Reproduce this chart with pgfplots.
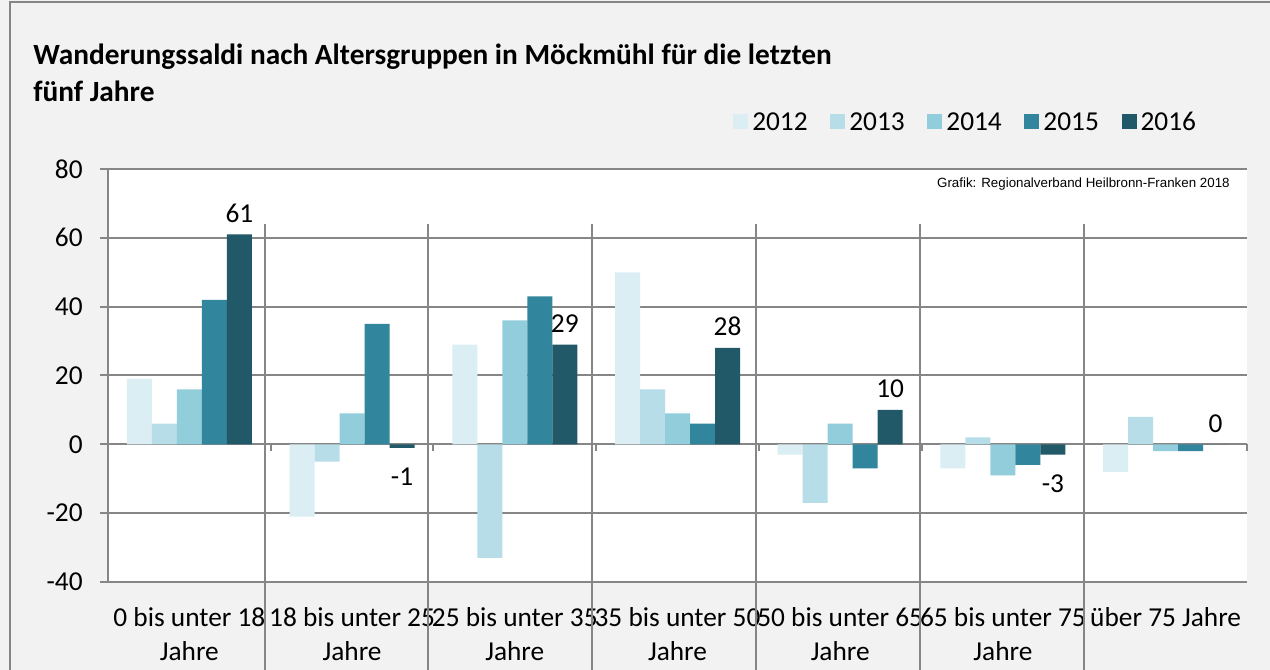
\documentclass[border=0pt]{standalone}
\usepackage{pgfplots}
\pgfplotsset{compat=1.18}
\usepackage{fontspec}
\setmainfont{Carlito}
\newfontfamily\arialfont{Liberation Sans}
\definecolor{bg}{HTML}{F2F2F2}
\definecolor{gridc}{HTML}{868686}
\definecolor{cA}{HTML}{DAEEF3}
\definecolor{cB}{HTML}{B7DEE8}
\definecolor{cC}{HTML}{92CDDC}
\definecolor{cD}{HTML}{31859C}
\definecolor{cE}{HTML}{215968}
\pgfplotsset{sqlegend/.style={legend image code/.code={\fill[##1] (0pt,0.9pt) rectangle (11.25pt,12.1pt);}}}
\begin{document}
\begin{tikzpicture}
\fill[bg] (0,0) rectangle (952.5pt,502.5pt);
\path[use as bounding box] (0,0) rectangle (952.5pt,502.5pt);
\draw[gridc, line width=1.5pt] (7.5pt,0) -- (7.5pt,501pt) -- (952.5pt,501pt);
\node[anchor=base west, inner sep=0pt, font=\bfseries\fontsize{22}{27.75}\selectfont] at (24.75pt,453.75pt) {Wanderungssaldi nach Altersgruppen in Möckmühl für die letzten};
\node[anchor=base west, inner sep=0pt, font=\bfseries\fontsize{22}{27.75}\selectfont] at (24.75pt,426pt) {fünf Jahre};
\begin{axis}[
  at={(81pt,66pt)}, anchor=south west,
  scale only axis, width=854.25pt, height=309.75pt,
  xmin=-0.5, xmax=6.5, ymin=-40, ymax=80,
  ytick={-40,-20,0,20,40,60,80},
  yticklabels={-40,-20,0,20,40,60,80},
  xtick={0,1,2,3,4,5,6},
  xticklabels={{0 bis unter 18\\Jahre},{18 bis unter 25\\Jahre},{25 bis unter 35\\Jahre},{35 bis unter 50\\Jahre},{50 bis unter 65\\Jahre},{65 bis unter 75\\Jahre},{über 75 Jahre}},
  ymajorgrids, grid style={gridc, line width=1.5pt},
  axis x line*=bottom, axis y line*=left,
  axis line style={gridc, line width=1.5pt},
  ytick style={gridc, line width=1.5pt},
  xtick style={draw=none},
  ytick align=outside, major tick length=6pt,
  ybar=0pt, bar width=18.75pt,
  clip=false,
  axis background/.style={fill=white},
  ticklabel style={font=\fontsize{20.5}{25.5}\selectfont},
  xticklabel style={align=center, yshift=-9.5pt},
  yticklabel style={xshift=-9.5pt},
  legend style={at={(0.5487,1.1090)}, anchor=west, draw=none, fill=none, inner sep=0pt,
    legend columns=5, font=\fontsize{20.5}{22}\selectfont,
    /tikz/every even column/.append style={column sep=14pt},
    nodes={inner sep=3pt, text height=10.5pt, text depth=1pt, anchor=base west}},
]
\addplot[fill=cA, draw=none, sqlegend, bar shift=-37.5pt] coordinates {(0,19) (1,-21) (2,29) (3,50) (4,-3) (5,-7) (6,-8)};
\addplot[fill=cB, draw=none, sqlegend, bar shift=-18.75pt] coordinates {(0,6) (1,-5) (2,-33) (3,16) (4,-17) (5,2) (6,8)};
\addplot[fill=cC, draw=none, sqlegend, bar shift=0pt] coordinates {(0,16) (1,9) (2,36) (3,9) (4,6) (5,-9) (6,-2)};
\addplot[fill=cD, draw=none, sqlegend, bar shift=18.75pt] coordinates {(0,42) (1,35) (2,43) (3,6) (4,-7) (5,-6) (6,-2)};
\addplot[fill=cE, draw=none, sqlegend, bar shift=37.5pt] coordinates {(0,61) (1,-1) (2,29) (3,28) (4,10) (5,-3) (6,0)};
\legend{2012,2013,2014,2015,2016}
% data labels of the 2016 series
\addplot[draw=none, fill=none, forget plot, bar shift=37.5pt,
  nodes near coords={\pgfmathprintnumber[assume math mode=true]{\pgfplotspointmeta}},
  point meta=y, nodes near coords align=vertical,
  every node near coord/.append style={font=\fontsize{20.5}{22}\selectfont, text=black, inner sep=5pt, yshift=3.75pt}]
  coordinates {(0,61) (2,29) (3,28) (4,10) (6,0)};
\addplot[draw=none, fill=none, forget plot, bar shift=37.5pt,
  nodes near coords={\pgfmathprintnumber[assume math mode=true]{\pgfplotspointmeta}},
  point meta=y, nodes near coords align=vertical,
  every node near coord/.append style={font=\fontsize{20.5}{22}\selectfont, text=black, inner sep=5pt, yshift=-10pt}]
  coordinates {(1,-1) (5,-3)};
\pgfplotsinvokeforeach{0.465,1.467,2.475,3.483,4.490,5.498}{
  \draw[gridc, line width=1.5pt] (axis cs:#1,64) -- (axis cs:#1,-65.6);
}
\pgfplotsinvokeforeach{0.5,1.5,2.5,3.5,4.5,5.5,6.5}{
  \draw[gridc, line width=1.5pt] (axis cs:#1,0) -- (axis cs:#1,-2);
}
\node[anchor=east, inner sep=0pt, font=\arialfont\fontsize{10}{11}\selectfont] at (rel axis cs:0.985,0.964) {Grafik: Regionalverband Heilbronn-Franken 2018};
\end{axis}
\end{tikzpicture}
\end{document}
